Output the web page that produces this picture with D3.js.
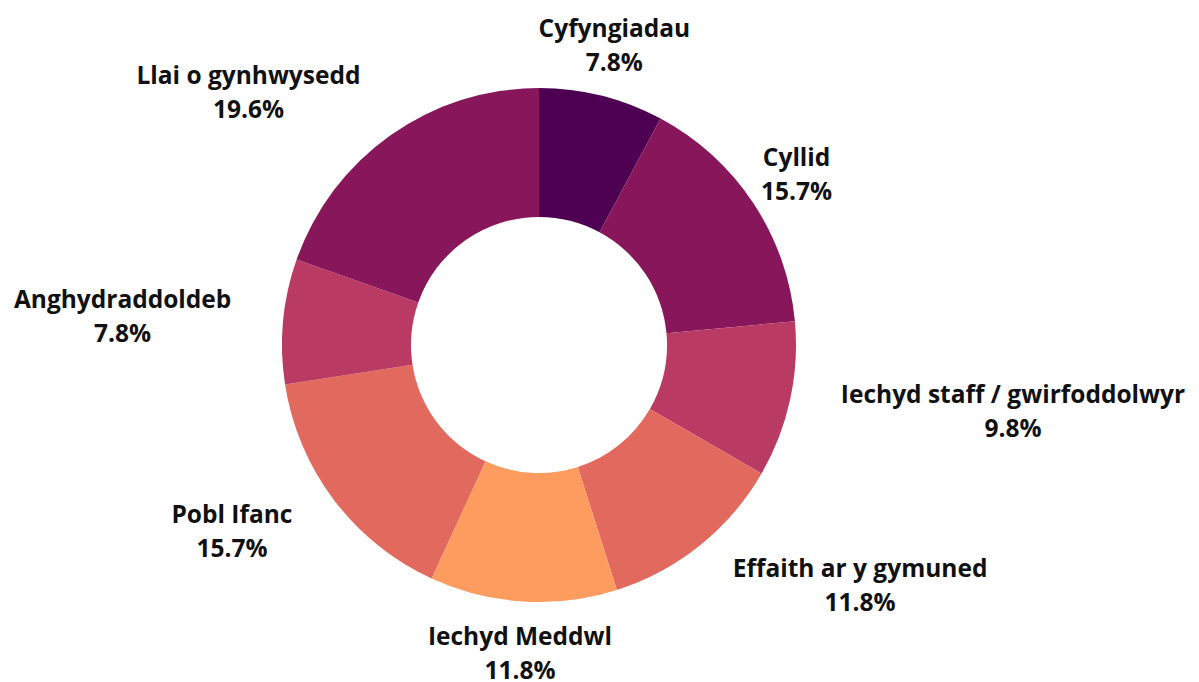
<!DOCTYPE html>
<html>
<head>
<meta charset="utf-8">
<script src="https://cdn.jsdelivr.net/npm/d3@7.9.0/dist/d3.min.js"></script>
<style>
  body { margin: 0; background: #fff; }
  svg text { font-family: "Open Sans", sans-serif; font-weight: 700; font-size: 24.5px; fill: #111; }
</style>
</head>
<body>
<svg id="chart" width="1199" height="682"></svg>
<script>
// categories, clockwise from the top
let categories = ['Cyfyngiadau', 'Cyllid', 'Iechyd staff / gwirfoddolwyr', 'Effaith ar y gymuned',
  'Iechyd Meddwl', 'Pobl Ifanc', 'Anghydraddoldeb', 'Llai o gynhwysedd'];
let counts = [4, 8, 5, 6, 6, 8, 4, 10];
let colors = ['#4e0052', '#87165a', '#b93a62', '#e2695e', '#fe9b5f', '#e2695e', '#b93a62', '#87165a'];

const width = 1199, height = 682;
const cx = 539, cy = 345;
const outerR = 257, innerR = 128, labelR = 309;

let svg = d3.select('#chart');
let g = svg.append('g').attr('transform', `translate(${cx},${cy})`);

let total = d3.sum(counts);
let data = categories.map((c, i) => ({ name: c, value: counts[i], color: colors[i] }));

let pie = d3.pie().value(d => d.value).sort(null);
let arcs = pie(data);

let arcGenerator = d3.arc().innerRadius(innerR).outerRadius(outerR);
let labelArc = d3.arc().innerRadius(labelR).outerRadius(labelR);

g.selectAll('path')
  .data(arcs)
  .join('path')
  .attr('d', arcGenerator)
  .attr('fill', d => d.data.color);

// labels: centred on the label point, pushed to one side if the box would overlap the ring
arcs.forEach(d => {
  let [x, y] = labelArc.centroid(d);
  let lab = g.append('text').attr('text-anchor', 'middle');
  let t1 = lab.append('tspan').attr('x', 0).attr('y', y - 17).attr('dy', '0.35em').text(d.data.name);
  let t2 = lab.append('tspan').attr('x', 0).attr('y', y + 17).attr('dy', '0.35em')
    .text((d.data.value / total * 100).toFixed(1) + '%');
  let w = Math.max(t1.node().getComputedTextLength(), t2.node().getComputedTextLength());
  let h = 68;
  // nearest point of the centred box to the pie centre
  let nx = Math.max(x - w / 2, Math.min(0, x + w / 2));
  let ny = Math.max(y - h / 2, Math.min(0, y + h / 2));
  let mid = x;
  if (Math.hypot(nx, ny) < outerR) {
    mid = x > 0 ? x + w / 2 : x - w / 2;
  }
  t1.attr('x', mid);
  t2.attr('x', mid);
});
</script>
</body>
</html>
